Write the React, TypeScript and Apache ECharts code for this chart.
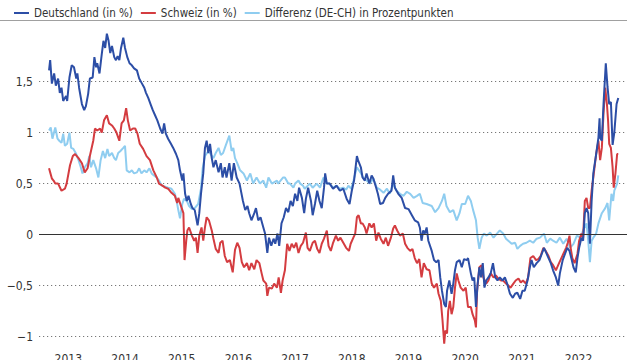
import React, { useEffect, useRef } from "react";
import * as echarts from "echarts";

const FONT = "'DejaVu Sans Condensed', 'Liberation Sans Narrow', sans-serif";

const yearTicks = [2013, 2014, 2015, 2016, 2017, 2018, 2019, 2020, 2021, 2022];
const yLabelValues = [-1, -0.5, 0, 0.5, 1, 1.5];
const yGridValues = [-1, -0.5, 0.5, 1, 1.5];

const seriesNames = ["Deutschland (in %)", "Schweiz (in %)", "Differenz (DE-CH) in Prozentpunkten"];

// [decimal year, value]
const deutschland: [number, number][] = [
  [2012.66, 1.61], [2012.68, 1.71], [2012.71, 1.48], [2012.75, 1.58], [2012.78, 1.46], [2012.82, 1.53],
  [2012.85, 1.39], [2012.88, 1.44], [2012.91, 1.31], [2012.96, 1.36], [2012.98, 1.31], [2013.02, 1.54],
  [2013.06, 1.66], [2013.10, 1.64], [2013.14, 1.53], [2013.16, 1.58], [2013.19, 1.44], [2013.24, 1.28],
  [2013.28, 1.22], [2013.31, 1.26], [2013.35, 1.38], [2013.38, 1.53], [2013.43, 1.54], [2013.46, 1.74],
  [2013.49, 1.64], [2013.51, 1.68], [2013.55, 1.58], [2013.59, 1.77], [2013.62, 1.90], [2013.65, 1.83],
  [2013.68, 1.97], [2013.71, 1.90], [2013.74, 1.78], [2013.77, 1.85], [2013.81, 1.74], [2013.84, 1.71],
  [2013.87, 1.75], [2013.90, 1.71], [2013.93, 1.83], [2013.97, 1.93], [2014.00, 1.83], [2014.04, 1.74],
  [2014.08, 1.68], [2014.12, 1.66], [2014.16, 1.63], [2014.21, 1.61], [2014.25, 1.53], [2014.29, 1.49],
  [2014.34, 1.44], [2014.37, 1.39], [2014.41, 1.34], [2014.45, 1.28], [2014.49, 1.22], [2014.53, 1.17],
  [2014.57, 1.12], [2014.62, 1.04], [2014.66, 0.99], [2014.69, 1.09], [2014.72, 0.99], [2014.76, 0.94],
  [2014.81, 0.89], [2014.85, 0.85], [2014.90, 0.79], [2014.94, 0.73], [2014.97, 0.63], [2015.01, 0.53],
  [2015.03, 0.60], [2015.06, 0.40], [2015.09, 0.33], [2015.12, 0.38], [2015.16, 0.30], [2015.19, 0.26],
  [2015.23, 0.24], [2015.28, 0.09], [2015.31, 0.21], [2015.34, 0.40], [2015.38, 0.60], [2015.41, 0.85],
  [2015.44, 0.92], [2015.47, 0.80], [2015.50, 0.89], [2015.53, 0.75], [2015.56, 0.66], [2015.60, 0.73],
  [2015.65, 0.61], [2015.69, 0.70], [2015.72, 0.56], [2015.76, 0.66], [2015.79, 0.56], [2015.84, 0.70],
  [2015.88, 0.53], [2015.92, 0.70], [2015.97, 0.56], [2016.02, 0.50], [2016.08, 0.33], [2016.12, 0.24],
  [2016.16, 0.28], [2016.19, 0.21], [2016.23, 0.14], [2016.28, 0.21], [2016.31, 0.26], [2016.35, 0.14],
  [2016.39, 0.17], [2016.44, 0.07], [2016.47, 0.01], [2016.51, -0.18], [2016.54, -0.03], [2016.58, -0.11],
  [2016.62, -0.04], [2016.65, -0.09], [2016.69, 0.01], [2016.72, -0.11], [2016.76, 0.11], [2016.80, 0.17],
  [2016.84, 0.26], [2016.88, 0.22], [2016.92, 0.33], [2016.96, 0.28], [2017.00, 0.40], [2017.04, 0.33],
  [2017.07, 0.46], [2017.12, 0.36], [2017.16, 0.21], [2017.19, 0.35], [2017.23, 0.46], [2017.28, 0.33],
  [2017.31, 0.19], [2017.35, 0.30], [2017.39, 0.43], [2017.43, 0.33], [2017.47, 0.26], [2017.51, 0.46],
  [2017.53, 0.60], [2017.56, 0.50], [2017.61, 0.50], [2017.67, 0.45], [2017.73, 0.48], [2017.79, 0.43],
  [2017.85, 0.45], [2017.91, 0.35], [2017.96, 0.30], [2018.00, 0.43], [2018.04, 0.53], [2018.09, 0.77],
  [2018.11, 0.73], [2018.16, 0.66], [2018.19, 0.56], [2018.23, 0.53], [2018.26, 0.60], [2018.31, 0.50],
  [2018.35, 0.58], [2018.38, 0.55], [2018.43, 0.46], [2018.46, 0.40], [2018.50, 0.30], [2018.55, 0.31],
  [2018.59, 0.36], [2018.64, 0.40], [2018.70, 0.43], [2018.73, 0.58], [2018.76, 0.46], [2018.82, 0.40],
  [2018.88, 0.36], [2018.94, 0.26], [2019.00, 0.25], [2019.06, 0.19], [2019.11, 0.14], [2019.17, 0.12],
  [2019.20, 0.07], [2019.23, -0.06], [2019.26, 0.04], [2019.29, 0.01], [2019.32, 0.07], [2019.35, -0.06],
  [2019.41, -0.16], [2019.45, -0.25], [2019.49, -0.27], [2019.53, -0.25], [2019.56, -0.42], [2019.59, -0.55],
  [2019.63, -0.68], [2019.66, -0.71], [2019.68, -0.55], [2019.72, -0.45], [2019.76, -0.58], [2019.79, -0.48],
  [2019.82, -0.35], [2019.85, -0.27], [2019.90, -0.25], [2019.94, -0.32], [2019.98, -0.24], [2020.03, -0.25],
  [2020.05, -0.23], [2020.10, -0.38], [2020.13, -0.45], [2020.16, -0.42], [2020.19, -0.71], [2020.22, -0.48],
  [2020.25, -0.32], [2020.28, -0.42], [2020.31, -0.28], [2020.34, -0.52], [2020.37, -0.45], [2020.41, -0.42],
  [2020.45, -0.38], [2020.49, -0.28], [2020.53, -0.42], [2020.57, -0.45], [2020.61, -0.42], [2020.66, -0.45],
  [2020.70, -0.42], [2020.74, -0.48], [2020.79, -0.58], [2020.84, -0.62], [2020.88, -0.58], [2020.92, -0.57],
  [2020.97, -0.63], [2021.01, -0.55], [2021.05, -0.55], [2021.10, -0.45], [2021.14, -0.32], [2021.17, -0.25],
  [2021.21, -0.32], [2021.26, -0.28], [2021.31, -0.25], [2021.35, -0.19], [2021.39, -0.13], [2021.43, -0.18],
  [2021.47, -0.23], [2021.51, -0.28], [2021.55, -0.35], [2021.60, -0.42], [2021.64, -0.50], [2021.67, -0.38],
  [2021.72, -0.25], [2021.76, -0.19], [2021.80, -0.13], [2021.84, -0.16], [2021.88, -0.25], [2021.91, -0.32],
  [2021.95, -0.37], [2021.98, -0.23], [2022.01, -0.13], [2022.05, -0.03], [2022.08, -0.06], [2022.11, 0.21],
  [2022.14, 0.26], [2022.17, 0.21], [2022.20, -0.09], [2022.23, 0.33], [2022.26, 0.60], [2022.31, 0.79],
  [2022.35, 0.95], [2022.37, 1.14], [2022.38, 0.95], [2022.41, 0.92], [2022.44, 1.28], [2022.48, 1.68],
  [2022.51, 1.45], [2022.54, 1.28], [2022.57, 1.30], [2022.60, 0.88], [2022.63, 1.00], [2022.67, 1.28],
  [2022.70, 1.34],
];

const schweiz: [number, number][] = [
  [2012.66, 0.65], [2012.68, 0.61], [2012.71, 0.55], [2012.74, 0.53], [2012.77, 0.50], [2012.82, 0.50],
  [2012.88, 0.43], [2012.94, 0.45], [2012.97, 0.50], [2013.03, 0.68], [2013.08, 0.77], [2013.12, 0.79],
  [2013.18, 0.75], [2013.24, 0.70], [2013.29, 0.61], [2013.34, 0.65], [2013.38, 0.77], [2013.44, 0.92],
  [2013.47, 1.04], [2013.51, 1.02], [2013.56, 1.04], [2013.59, 1.00], [2013.63, 1.12], [2013.68, 1.17],
  [2013.72, 1.09], [2013.77, 1.07], [2013.81, 1.04], [2013.85, 1.00], [2013.90, 0.92], [2013.94, 1.09],
  [2013.98, 1.12], [2014.02, 1.24], [2014.05, 1.12], [2014.09, 1.02], [2014.14, 1.04], [2014.18, 1.04],
  [2014.22, 0.99], [2014.26, 0.89], [2014.32, 0.84], [2014.38, 0.77], [2014.44, 0.73], [2014.50, 0.63],
  [2014.56, 0.56], [2014.60, 0.50], [2014.66, 0.48], [2014.71, 0.46], [2014.76, 0.45], [2014.82, 0.41],
  [2014.88, 0.38], [2014.92, 0.31], [2014.94, 0.36], [2015.00, 0.26], [2015.03, 0.21], [2015.05, -0.25],
  [2015.08, -0.06], [2015.10, 0.04], [2015.13, 0.07], [2015.18, -0.01], [2015.22, -0.06], [2015.25, -0.03],
  [2015.28, -0.18], [2015.31, -0.01], [2015.35, 0.07], [2015.38, -0.06], [2015.41, 0.07], [2015.44, 0.17],
  [2015.48, 0.14], [2015.53, 0.04], [2015.56, -0.04], [2015.60, -0.14], [2015.65, -0.18], [2015.68, -0.08],
  [2015.72, -0.06], [2015.76, -0.21], [2015.80, -0.27], [2015.85, -0.25], [2015.90, -0.37], [2015.94, -0.15],
  [2015.98, -0.08], [2016.02, -0.13], [2016.06, -0.27], [2016.10, -0.32], [2016.15, -0.28], [2016.19, -0.35],
  [2016.23, -0.28], [2016.28, -0.34], [2016.32, -0.25], [2016.37, -0.28], [2016.41, -0.38], [2016.44, -0.45],
  [2016.49, -0.48], [2016.51, -0.60], [2016.54, -0.52], [2016.59, -0.53], [2016.63, -0.48], [2016.68, -0.52],
  [2016.71, -0.42], [2016.75, -0.57], [2016.78, -0.45], [2016.82, -0.35], [2016.86, -0.09], [2016.90, -0.16],
  [2016.94, -0.09], [2016.98, -0.13], [2017.02, -0.08], [2017.06, -0.18], [2017.10, -0.11], [2017.14, -0.08],
  [2017.19, 0.02], [2017.22, -0.13], [2017.26, -0.16], [2017.31, -0.08], [2017.35, -0.06], [2017.39, -0.14],
  [2017.43, -0.18], [2017.47, -0.09], [2017.51, -0.04], [2017.56, 0.04], [2017.59, -0.11], [2017.63, -0.16],
  [2017.67, -0.08], [2017.72, -0.01], [2017.76, -0.06], [2017.80, -0.03], [2017.85, -0.08], [2017.90, -0.13],
  [2017.95, -0.16], [2017.98, -0.09], [2018.02, -0.04], [2018.06, 0.01], [2018.09, 0.17], [2018.12, 0.19],
  [2018.16, 0.11], [2018.19, 0.11], [2018.23, 0.07], [2018.26, 0.01], [2018.31, 0.11], [2018.35, 0.07],
  [2018.39, 0.11], [2018.43, -0.06], [2018.47, 0.02], [2018.51, -0.04], [2018.56, -0.09], [2018.60, -0.03],
  [2018.64, -0.11], [2018.69, -0.03], [2018.73, 0.06], [2018.76, 0.09], [2018.80, 0.04], [2018.85, -0.01],
  [2018.90, 0.01], [2018.94, -0.09], [2018.98, -0.13], [2019.03, -0.16], [2019.07, -0.14], [2019.11, -0.23],
  [2019.15, -0.28], [2019.19, -0.24], [2019.23, -0.42], [2019.27, -0.28], [2019.32, -0.34], [2019.37, -0.35],
  [2019.41, -0.48], [2019.45, -0.52], [2019.50, -0.48], [2019.53, -0.58], [2019.57, -0.65], [2019.60, -0.84],
  [2019.63, -1.07], [2019.65, -0.94], [2019.68, -0.97], [2019.70, -0.75], [2019.73, -0.65], [2019.76, -0.78],
  [2019.79, -0.71], [2019.82, -0.52], [2019.85, -0.38], [2019.88, -0.45], [2019.92, -0.52], [2019.97, -0.55],
  [2020.01, -0.52], [2020.05, -0.71], [2020.10, -0.71], [2020.13, -0.78], [2020.17, -0.84], [2020.19, -0.91],
  [2020.21, -0.55], [2020.25, -0.32], [2020.29, -0.30], [2020.32, -0.42], [2020.37, -0.48], [2020.41, -0.45],
  [2020.45, -0.38], [2020.50, -0.42], [2020.54, -0.40], [2020.58, -0.43], [2020.63, -0.45], [2020.67, -0.45],
  [2020.72, -0.48], [2020.76, -0.50], [2020.80, -0.52], [2020.85, -0.48], [2020.89, -0.45], [2020.94, -0.43],
  [2020.98, -0.47], [2021.02, -0.45], [2021.07, -0.48], [2021.11, -0.42], [2021.15, -0.23], [2021.20, -0.21],
  [2021.25, -0.25], [2021.29, -0.24], [2021.33, -0.21], [2021.38, -0.13], [2021.42, -0.16], [2021.47, -0.21],
  [2021.51, -0.27], [2021.55, -0.30], [2021.60, -0.35], [2021.64, -0.30], [2021.68, -0.25], [2021.73, -0.19],
  [2021.78, -0.13], [2021.81, -0.08], [2021.84, -0.01], [2021.86, -0.13], [2021.89, -0.23], [2021.93, -0.28],
  [2021.98, -0.19], [2022.01, -0.06], [2022.05, 0.01], [2022.08, -0.03], [2022.11, 0.33], [2022.14, 0.36],
  [2022.17, 0.26], [2022.20, 0.26], [2022.23, 0.43], [2022.26, 0.56], [2022.31, 0.79], [2022.35, 0.92],
  [2022.38, 0.73], [2022.41, 0.85], [2022.44, 1.19], [2022.47, 1.44], [2022.50, 1.28], [2022.52, 1.12],
  [2022.54, 0.89], [2022.57, 0.85], [2022.60, 0.66], [2022.62, 0.46], [2022.65, 0.60], [2022.68, 0.79],
  [2022.70, 0.79],
];

const differenz: [number, number][] = [
  [2012.66, 1.02], [2012.69, 1.05], [2012.72, 0.94], [2012.77, 1.05], [2012.81, 0.94], [2012.84, 0.92],
  [2012.88, 0.90], [2012.91, 0.99], [2012.94, 0.87], [2012.98, 0.89], [2013.02, 1.00], [2013.05, 0.85],
  [2013.09, 0.84], [2013.14, 0.79], [2013.18, 0.73], [2013.22, 0.66], [2013.25, 0.60], [2013.29, 0.66],
  [2013.34, 0.70], [2013.37, 0.77], [2013.40, 0.66], [2013.44, 0.73], [2013.49, 0.65], [2013.53, 0.56],
  [2013.57, 0.73], [2013.61, 0.82], [2013.65, 0.75], [2013.69, 0.84], [2013.72, 0.77], [2013.77, 0.80],
  [2013.81, 0.75], [2013.84, 0.73], [2013.88, 0.80], [2013.92, 0.82], [2013.97, 0.85], [2014.00, 0.87],
  [2014.03, 0.63], [2014.08, 0.61], [2014.12, 0.63], [2014.16, 0.60], [2014.21, 0.61], [2014.25, 0.65],
  [2014.29, 0.60], [2014.34, 0.63], [2014.38, 0.61], [2014.43, 0.65], [2014.47, 0.60], [2014.51, 0.58],
  [2014.56, 0.56], [2014.60, 0.53], [2014.65, 0.48], [2014.71, 0.47], [2014.76, 0.46], [2014.82, 0.45],
  [2014.88, 0.40], [2014.91, 0.33], [2014.94, 0.24], [2014.97, 0.16], [2015.01, 0.30], [2015.04, 0.35],
  [2015.09, 0.33], [2015.13, 0.28], [2015.18, 0.25], [2015.23, 0.26], [2015.29, 0.30], [2015.34, 0.45],
  [2015.37, 0.65], [2015.41, 0.77], [2015.47, 0.82], [2015.52, 0.78], [2015.56, 0.75], [2015.60, 0.80],
  [2015.65, 0.85], [2015.69, 0.78], [2015.73, 0.80], [2015.78, 0.88], [2015.84, 0.97], [2015.88, 0.82],
  [2015.91, 0.85], [2015.94, 0.75], [2015.98, 0.70], [2016.03, 0.63], [2016.09, 0.60], [2016.15, 0.53],
  [2016.21, 0.60], [2016.26, 0.50], [2016.32, 0.56], [2016.38, 0.50], [2016.44, 0.53], [2016.49, 0.46],
  [2016.53, 0.56], [2016.59, 0.50], [2016.62, 0.51], [2016.68, 0.53], [2016.70, 0.50], [2016.79, 0.56],
  [2016.82, 0.56], [2016.88, 0.50], [2016.91, 0.50], [2016.97, 0.46], [2017.00, 0.50], [2017.06, 0.53],
  [2017.09, 0.50], [2017.14, 0.48], [2017.17, 0.45], [2017.26, 0.50], [2017.31, 0.46], [2017.38, 0.50],
  [2017.44, 0.46], [2017.50, 0.56], [2017.55, 0.50], [2017.61, 0.50], [2017.67, 0.46], [2017.73, 0.48],
  [2017.79, 0.45], [2017.85, 0.46], [2017.90, 0.44], [2017.94, 0.48], [2017.99, 0.45], [2018.03, 0.53],
  [2018.09, 0.66], [2018.15, 0.61], [2018.20, 0.56], [2018.26, 0.53], [2018.32, 0.50], [2018.38, 0.55],
  [2018.44, 0.46], [2018.50, 0.44], [2018.56, 0.41], [2018.62, 0.45], [2018.67, 0.40], [2018.73, 0.50],
  [2018.79, 0.43], [2018.85, 0.40], [2018.91, 0.38], [2018.97, 0.42], [2019.03, 0.40], [2019.09, 0.36],
  [2019.15, 0.38], [2019.20, 0.40], [2019.25, 0.31], [2019.32, 0.30], [2019.41, 0.28], [2019.47, 0.22],
  [2019.53, 0.26], [2019.59, 0.33], [2019.63, 0.40], [2019.67, 0.28], [2019.73, 0.22], [2019.79, 0.24],
  [2019.85, 0.14], [2019.90, 0.21], [2019.94, 0.30], [2020.00, 0.30], [2020.05, 0.38], [2020.10, 0.33],
  [2020.14, 0.24], [2020.19, 0.14], [2020.22, -0.03], [2020.25, -0.14], [2020.29, -0.03], [2020.33, 0.01],
  [2020.38, -0.01], [2020.44, 0.02], [2020.50, -0.03], [2020.56, 0.01], [2020.61, 0.04], [2020.67, 0.01],
  [2020.72, -0.04], [2020.76, -0.06], [2020.82, -0.09], [2020.88, -0.08], [2020.92, -0.14], [2020.97, -0.11],
  [2021.02, -0.09], [2021.08, -0.08], [2021.14, -0.06], [2021.20, -0.08], [2021.26, -0.04], [2021.32, -0.03],
  [2021.39, 0.01], [2021.44, -0.08], [2021.50, -0.04], [2021.55, -0.06], [2021.61, -0.08], [2021.67, -0.03],
  [2021.73, -0.09], [2021.79, -0.04], [2021.85, -0.13], [2021.91, -0.09], [2021.97, -0.01], [2022.03, -0.03],
  [2022.08, 0.04], [2022.14, 0.11], [2022.17, -0.06], [2022.20, -0.27], [2022.23, -0.06], [2022.26, -0.03],
  [2022.31, 0.01], [2022.35, 0.11], [2022.41, 0.21], [2022.47, 0.26], [2022.51, 0.31], [2022.54, 0.14],
  [2022.58, 0.40], [2022.61, 0.33], [2022.63, 0.43], [2022.68, 0.50], [2022.70, 0.58],
];

const COLORS = { de: "#2c4ea6", ch: "#d43c40", diff: "#8fcdf0" };

const fmtNum = (v: number) => {
  const s = String(Math.abs(v)).replace(".", ",");
  return v < 0 ? "\u2212" + s : s;
};

export default function App() {
  const ref = useRef<HTMLDivElement>(null);
  useEffect(() => {
    if (!ref.current) return;
    const chart = echarts.init(ref.current, undefined, { renderer: "svg" });
    const lineSeries = (name: string, data: [number, number][], color: string, extra: any = {}) => ({
      name,
      type: "line",
      data,
      symbol: "none",
      smooth: false,
      lineStyle: { color, width: 2 },
      itemStyle: { color },
      ...extra,
    });
    chart.setOption({
      animation: false,
      textStyle: { fontFamily: FONT },
      legend: {
        data: seriesNames,
        left: 9,
        top: 2,
        icon: "rect",
        itemWidth: 15,
        itemHeight: 2,
        itemGap: 8,
        textStyle: { fontFamily: FONT, fontSize: 11.5, color: "#333" },
      },
      graphic: [
        {
          type: "line",
          shape: { x1: 0, y1: 20.5, x2: 627, y2: 20.5 },
          style: { stroke: "#a0a0a0", lineWidth: 1 },
          silent: true,
        },
      ],
      grid: {
        left: 39,
        right: 13,
        top: 20.4,
        bottom: 13.2,
        containLabel: false,
        outerBoundsMode: "none",
      },
      xAxis: {
        type: "value",
        min: 2012.483,
        max: 2022.854,
        axisLine: { show: false },
        axisTick: { show: false, customValues: yearTicks },
        splitLine: { show: false },
        axisLabel: {
          customValues: yearTicks,
          formatter: (v: number) => String(v),
          fontFamily: FONT,
          fontSize: 12,
          color: "#333",
          margin: 6,
        },
      },
      yAxis: {
        type: "value",
        min: -1.1,
        max: 2.1,
        axisLine: { show: false },
        axisTick: { show: false, customValues: yGridValues },
        splitLine: { show: true, lineStyle: { color: "#777", width: 1.2, type: [1.2, 2.8] } },
        axisLabel: {
          customValues: yLabelValues,
          formatter: (v: number) => fmtNum(v),
          fontFamily: FONT,
          fontSize: 12,
          color: "#333",
          margin: 6,
        },
      },
      series: [
        lineSeries(seriesNames[2], differenz, COLORS.diff, {
          markLine: {
            silent: true,
            symbol: "none",
            label: { show: false },
            lineStyle: { color: "#333", width: 1, type: "solid" },
            data: [{ yAxis: 0 }],
          },
          z: 2,
        }),
        lineSeries(seriesNames[1], schweiz, COLORS.ch, { z: 3 }),
        lineSeries(seriesNames[0], deutschland, COLORS.de, { z: 4 }),
      ],
    });
    return () => chart.dispose();
  }, []);
  return (
    <div
      ref={ref}
      style={{ position: "fixed", left: 0, top: 0, width: 640, height: 360, background: "#fff" }}
    />
  );
}
